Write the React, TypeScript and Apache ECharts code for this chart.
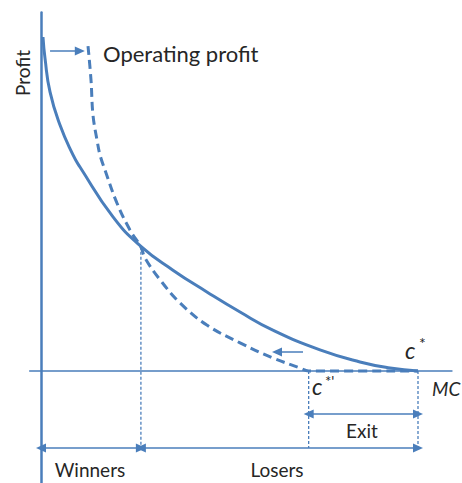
import React, { useEffect, useRef } from "react";
import * as echarts from "echarts";

const COLOR = "#4a7ebb";
const TEXT = "#262626";
const FONT = "Lato, 'Open Sans', sans-serif";

// Profit curve (solid) as a function of marginal cost; c* = 100
const solidCurve: [number, number][] = [
  [0.53, 99.7], [1.06, 93.4], [2.39, 83.3], [5.04, 73.4], [8.49, 64.5],
  [10.34, 60.9], [19.1, 46.0], [26.5, 37.2], [35.0, 30.1], [44.0, 23.6],
  [52.8, 17.6], [61.5, 12.2], [74.0, 6.3], [84.6, 2.7], [92.6, 0.9], [100, 0],
];
// Operating profit curve (dashed)
const dashedCurve: [number, number][] = [
  [12.47, 97.0], [13.26, 86.9], [13.79, 76.4], [14.85, 69.0], [15.65, 64.5],
  [16.98, 60.0], [20.16, 50.1], [23.6, 42.1], [26.5, 37.0], [27.6, 33.7],
  [31.6, 27.2], [36.9, 20.3], [44.0, 13.7], [52.8, 8.4], [61.5, 3.9],
  [68.7, 0.9], [71.0, 0], [100, 0],
];
const crossX = 26.5;
const crossY = 37.1;
const cStarPrime = 71;
const cStar = 100;
const bracketY = -23;
const exitY = -12.8;
const topArrow: [number, number][] = [[2.4, 95.5], [10.3, 95.5]];
const leftArrow: [number, number][] = [[69.5, 5.7], [62.6, 5.7]];

export default function App() {
  const ref = useRef<HTMLDivElement>(null);
  useEffect(() => {
    document.body.style.margin = "0";
    const chart = echarts.init(ref.current!, null, { renderer: "svg" });
    const arrowHead = { symbol: "triangle", symbolSize: [9, 10] };
    const noHead = { symbol: "none" };
    const dotted = (pts: [number, number][]) => ({
      type: "line",
      data: pts,
      showSymbol: false,
      symbol: "none",
      lineStyle: { color: COLOR, width: 1.3, type: [3, 2] },
      silent: true,
    });
    const txt = (text: string, x: number, y: number, extra: any = {}) => ({
      type: "text",
      x,
      y,
      z: 10,
      style: {
        text,
        fill: TEXT,
        font: `${extra.italic ? "italic " : ""}${extra.size || 19}px ${FONT}`,
        textAlign: extra.align || "left",
        textVerticalAlign: "middle",
      },
      rotation: extra.rotation || 0,
    });
    chart.setOption({
      animation: false,
      grid: { left: 29.69, right: 10.07, top: 12.55, bottom: 0.11 },
      xAxis: {
        type: "value",
        min: -3,
        max: 109,
        axisLabel: { show: false },
        axisTick: { show: false },
        splitLine: { show: false },
        axisLine: { onZero: true, lineStyle: { color: COLOR, width: 1.5 } },
      },
      yAxis: {
        type: "value",
        min: -33.4,
        max: 107,
        axisLabel: { show: false },
        axisTick: { show: false },
        splitLine: { show: false },
        axisLine: { onZero: true, lineStyle: { color: COLOR, width: 2.5 } },
      },
      series: [
        dotted([[crossX, crossY], [crossX, bracketY]]),
        dotted([[cStarPrime, 0], [cStarPrime, bracketY]]),
        dotted([[cStar, 0], [cStar, bracketY]]),
        {
          type: "line",
          data: dashedCurve,
          smooth: 0.4,
          showSymbol: false,
          symbol: "none",
          lineStyle: { color: COLOR, width: 3, type: [9, 5] },
        },
        {
          type: "line",
          data: solidCurve,
          smooth: 0.5,
          showSymbol: false,
          symbol: "none",
          lineStyle: { color: COLOR, width: 3 },
          markLine: {
            silent: true,
            label: { show: false },
            lineStyle: { color: COLOR, width: 1.5, type: "solid" },
            data: [
              [{ coord: [0, bracketY], ...arrowHead }, { coord: [crossX, bracketY], ...arrowHead }],
              [{ coord: [crossX, bracketY], ...arrowHead }, { coord: [cStar, bracketY], ...arrowHead }],
              [{ coord: [cStarPrime, exitY], ...arrowHead }, { coord: [cStar, exitY], ...arrowHead }],
              [{ coord: topArrow[0], ...noHead }, { coord: topArrow[1], ...arrowHead }],
              [{ coord: leftArrow[0], ...noHead }, { coord: leftArrow[1], ...arrowHead }],
            ],
          },
        },
      ],
      graphic: [
        txt("Operating profit", 103, 53, { size: 22 }),
        txt("Profit", 22, 73, { rotation: Math.PI / 2, align: "center" }),
        txt("Winners", 90, 469, { align: "center" }),
        txt("Losers", 277, 469, { align: "center" }),
        txt("Exit", 362, 430, { align: "center" }),
        txt("MC", 432, 388, { italic: true, size: 19 }),
        txt("c", 405, 350, { italic: true, size: 23 }),
        txt("*", 419, 342, { size: 16 }),
        txt("c", 312, 386, { italic: true, size: 23 }),
        txt("*'", 325, 381, { size: 15 }),
      ],
    });
    return () => chart.dispose();
  }, []);
  return <div ref={ref} style={{ width: 462, height: 483 }} />;
}
